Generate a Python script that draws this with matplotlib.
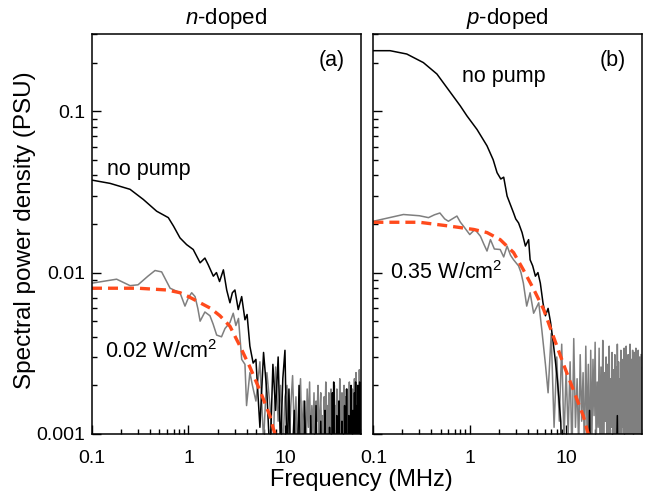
import numpy as np
import matplotlib
matplotlib.use("Agg")
from matplotlib import pyplot as plt
from matplotlib import ticker

plt.rcParams['font.family'] = ['Liberation Sans', 'DejaVu Sans']
plt.rcParams['mathtext.fontset'] = 'custom'
plt.rcParams['mathtext.rm'] = 'Liberation Sans'
plt.rcParams['mathtext.it'] = 'Liberation Sans:italic'

# ---- panel (a): n-doped ----
# smooth low-frequency parts (MHz, PSU)
freq_a_nopump = [0.1, 0.154, 0.248, 0.34, 0.468, 0.618, 0.70, 0.817, 0.957, 1.12, 1.32, 1.48, 1.6, 1.81,
                 1.95, 2.1, 2.3, 2.49, 2.69, 2.85, 3.03, 3.28, 3.56, 3.85, 4.05, 4.33, 4.68]
psd_a_nopump = [0.0374, 0.0357, 0.0328, 0.0284, 0.024, 0.0219, 0.0194, 0.0164, 0.0149, 0.0139, 0.0115,
                0.0123, 0.0112, 0.0095, 0.0100, 0.0088, 0.0104, 0.0078, 0.0065, 0.0075, 0.0078, 0.0059,
                0.0071, 0.0051, 0.0055, 0.0035, 0.00275]
freq_a_pump = [0.1, 0.18, 0.248, 0.30, 0.38, 0.45, 0.527, 0.645, 0.817, 0.92, 1.0, 1.08, 1.17, 1.25, 1.32,
               1.48, 1.67, 1.8, 1.96, 2.2, 2.39, 2.69, 2.91, 3.1, 3.3, 3.56, 3.85, 4.0, 4.33, 4.6]
psd_a_pump = [0.0086, 0.0091, 0.0083, 0.0084, 0.0095, 0.0103, 0.0101, 0.0080, 0.0075, 0.0062, 0.0070,
              0.0075, 0.0071, 0.0060, 0.0050, 0.0057, 0.0054, 0.0048, 0.0041, 0.0040, 0.0045, 0.0049,
              0.0056, 0.0047, 0.0052, 0.0029, 0.0027, 0.0015, 0.0024, 0.0020]
# noisy high-frequency parts, 5 MHz upwards in 0.5 MHz steps (units of 1e-3 PSU)
noise_a_nopump = [2.9, 1.1, 3.2, 1.8, 0.7, 2.7, 1.4, 3.0, 0.8, 2.2, 3.3,
                  0.7, 1.9, 0.6, 0.8, 1.4, 0.5, 0.7, 2.0, 0.6, 0.8, 0.5, 1.6, 0.7, 0.6, 0.9, 0.5, 1.3, 0.6, 0.8, 0.5,
                  0.7, 1.5, 0.6, 0.8, 0.5, 0.7, 1.2, 0.6, 0.5, 0.8, 0.6, 1.4, 0.5, 0.7, 0.6, 0.8, 0.5, 1.1, 0.6, 0.7,
                  0.5, 1.8, 0.6, 2.1, 0.7, 0.5, 0.8, 0.6, 1.3, 0.5, 0.7, 0.6, 1.6, 0.5, 0.8, 0.6, 0.7, 1.2, 0.5, 0.6,
                  0.8, 0.5, 1.5, 0.6, 0.7, 0.5, 1.9, 0.6, 0.8, 0.5, 0.7, 1.3, 0.6, 0.5, 0.8, 0.6, 2.0, 0.5, 0.7, 0.6,
                  1.4, 0.5, 0.7, 0.6, 1.8, 0.5, 0.8, 2.1, 0.6, 0.7, 0.5, 1.5, 0.6, 2.0, 0.5, 0.8, 1.7, 0.6, 2.1, 0.7]
noise_a_pump = [1.6, 2.8, 0.9, 2.4, 1.5, 0.7, 2.6, 1.2, 2.0, 0.8, 1.7,
                2.0, 0.8, 1.5, 2.3, 1.0, 1.7, 0.7, 1.4, 2.2, 0.9, 1.6, 1.2, 0.7, 1.9, 1.1, 2.1, 0.8, 1.5, 1.0, 1.8,
                0.8, 1.6, 1.2, 2.0, 0.7, 1.4, 1.8, 0.9, 1.3, 0.7, 1.7, 1.1, 2.1, 0.8, 1.5, 1.0, 1.8, 0.7, 1.3, 1.9,
                1.1, 0.8, 1.7, 1.3, 2.0, 0.7, 1.5, 1.0, 1.9, 1.2, 0.8, 1.6, 1.1, 2.2, 0.9, 1.4, 0.7, 1.8, 1.2, 0.9,
                1.5, 2.0, 1.0, 0.7, 1.7, 1.3, 0.8, 1.9, 1.1, 1.6, 0.7, 1.4, 2.1, 1.0, 0.8, 1.8, 1.2, 1.5, 0.7, 1.9,
                1.2, 0.8, 1.7, 1.4, 2.2, 0.9, 1.5, 1.1, 2.4, 0.8, 1.6, 1.3, 0.7, 2.0, 1.2, 1.8, 0.9, 2.5, 1.4, 1.0]
freq_a_fit = [0.1, 0.3, 0.6, 0.82, 1.0, 1.32, 1.7, 2.12, 2.69, 3.42, 4.33, 5.5, 7.0, 7.57, 8.0]
psd_a_fit = [0.0080, 0.0080, 0.0078, 0.0075, 0.0071, 0.0065, 0.0060, 0.0054, 0.00465, 0.0035, 0.0026,
             0.00186, 0.00129, 0.00108, 0.00098]

# ---- panel (b): p-doped ----
freq_b_nopump = [0.1, 0.149, 0.222, 0.33, 0.456, 0.627, 0.796, 0.935, 1.19, 1.51, 1.75, 1.92, 2.1, 2.25, 2.44,
                 2.85, 3.0, 3.21, 3.49, 3.78, 4.08, 4.23, 4.5, 4.8, 5.1, 5.4, 5.75, 6.1, 6.5, 6.9, 7.3, 7.7,
                 8.1, 8.4, 8.8]
psd_b_nopump = [0.237, 0.237, 0.226, 0.20, 0.170, 0.131, 0.108, 0.0935, 0.077, 0.061, 0.050, 0.0416, 0.038,
                0.039, 0.0298, 0.0234, 0.0215, 0.0203, 0.0177, 0.0146, 0.0160, 0.0120, 0.0110, 0.0095, 0.0100,
                0.0086, 0.0065, 0.0054, 0.0060, 0.0049, 0.0038, 0.0029, 0.0022, 0.0017, 0.0012]
freq_b_pump = [0.1, 0.205, 0.30, 0.373, 0.43, 0.49, 0.55, 0.60, 0.736, 0.80, 0.86, 1.0, 1.13, 1.29, 1.4,
               1.51, 1.64, 1.8, 2.07, 2.25, 2.44, 2.65, 2.85, 3.21, 3.4, 3.6, 3.9, 4.23, 4.6, 5.2, 5.6, 6.1]
psd_b_pump = [0.0208, 0.0229, 0.0225, 0.0219, 0.0228, 0.0234, 0.0215, 0.0208, 0.0224, 0.0205, 0.0194,
              0.0172, 0.0185, 0.0168, 0.0150, 0.0136, 0.0160, 0.0140, 0.0139, 0.0125, 0.0146, 0.0128,
              0.0120, 0.0110, 0.0100, 0.0086, 0.0062, 0.0075, 0.0056, 0.0065, 0.0044, 0.0027]
# noisy parts: no pump from 9 MHz, pumped from 6.5 MHz, 0.5 MHz steps (units of 1e-3 PSU)
noise_b_nopump = [0.7, 1.0, 0.6,
                  0.8, 0.5, 0.9, 0.6, 0.7, 0.5, 0.8, 0.6, 0.9, 0.5, 0.7, 0.6, 0.8, 0.5, 1.4, 0.6, 0.7, 0.5, 0.8, 0.6,
                  0.5, 0.8, 0.6, 0.7, 0.5, 0.9, 0.6, 0.5, 0.8, 0.6, 0.7, 0.5, 0.9, 0.6, 0.5, 0.8, 0.6, 0.7, 0.5, 0.8,
                  0.6, 0.5, 0.9, 0.6, 0.7, 0.5, 0.8, 1.3, 0.6, 0.5, 0.8, 0.6, 0.7, 0.5, 0.9, 0.6, 0.5, 0.8, 0.6, 0.7,
                  0.5, 0.8, 0.6, 0.7, 0.5, 0.9, 0.6, 0.5, 0.8, 0.6, 0.7, 0.5, 0.9, 0.6, 0.5, 0.8, 0.6, 0.7, 0.5, 0.8,
                  0.6, 0.5, 0.9, 0.6, 0.7, 0.5, 0.8, 0.6, 0.5, 0.9, 0.6, 0.7, 0.5, 0.8, 0.6, 0.5, 0.9, 0.6, 0.7, 0.5]
noise_b_pump = [1.8, 4.2, 1.1, 3.0, 1.2, 3.6, 0.9, 2.5,
                1.0, 2.8, 0.7, 3.9, 1.1, 2.2, 0.8, 3.1, 1.2, 2.4, 0.7, 3.5, 1.0, 2.7, 0.6, 3.3, 0.9, 2.9, 1.3, 3.7,
                0.8, 2.1, 1.1, 3.4, 0.7, 2.6, 1.0, 3.8, 0.6, 2.4, 1.2, 3.0, 0.8, 2.7, 0.9, 3.5, 0.7, 2.2, 1.1, 3.2,
                0.9, 2.5, 0.7, 3.1, 1.0, 2.6, 0.6, 3.6, 1.2, 2.8, 0.8, 2.2, 1.0, 3.3, 0.7, 2.4, 1.1, 2.9, 0.6, 3.4,
                1.0, 2.7, 0.8, 3.5, 1.1, 2.3, 0.7, 3.1, 0.9, 2.6, 1.2, 3.6, 0.6, 2.0, 1.0, 2.9, 0.8, 3.3, 1.1, 2.5,
                0.7, 3.2, 1.0, 2.7, 0.8, 3.4, 1.2, 2.3, 0.6, 2.9, 1.0, 3.3, 0.9, 2.4, 0.7, 3.0, 1.1, 2.6, 0.8, 3.1]
freq_b_fit = [0.1, 0.3, 0.62, 1.1, 1.51, 2.07, 2.85, 3.6, 4.6, 5.85, 7.4, 9.4, 11.9, 15.1, 16.5, 17.5]
psd_b_fit = [0.0205, 0.0205, 0.0194, 0.0185, 0.0177, 0.0160, 0.0133, 0.0104, 0.0079, 0.0059, 0.0040,
             0.0027, 0.00187, 0.00129, 0.00106, 0.00095]


def join(freq, psd, noise, f0):
    f_noise = f0 + 0.5 * np.arange(len(noise))
    return (np.concatenate([freq, f_noise]),
            np.concatenate([psd, np.array(noise) * 1e-3]))


orange = '#ff4a1c'
fig = plt.figure(figsize=(6.46, 4.93), dpi=100)
ax_a = fig.add_axes([0.1424, 0.1197, 0.416, 0.811])
ax_b = fig.add_axes([0.578, 0.1197, 0.4155, 0.811])

panels = [
    (ax_a, join(freq_a_nopump, psd_a_nopump, noise_a_nopump, 5.0),
     join(freq_a_pump, psd_a_pump, noise_a_pump, 5.0), (freq_a_fit, psd_a_fit)),
    (ax_b, join(freq_b_nopump, psd_b_nopump, noise_b_nopump, 9.0),
     join(freq_b_pump, psd_b_pump, noise_b_pump, 6.5), (freq_b_fit, psd_b_fit)),
]

for ax, nopump, pump, fit in panels:
    ax.plot(pump[0], pump[1], color='#7f7f7f', lw=1.1)
    ax.plot(nopump[0], nopump[1], color='black', lw=1.1)
    ax.plot(fit[0], fit[1], color=orange, lw=2.4, dashes=(3, 1.8))
    ax.set_xscale('log')
    ax.set_yscale('log')
    ax.set_xlim(0.1, 61)
    ax.set_ylim(0.001, 0.3)
    ax.tick_params(which='both', direction='in', top=False, right=False, width=1.0)
    ax.tick_params(which='major', length=6.5, labelsize=14)
    ax.tick_params(which='minor', length=3.6)
    ax.tick_params(axis='x', pad=11.5)
    ax.tick_params(axis='y', pad=5)
    ax.xaxis.set_major_formatter(ticker.FormatStrFormatter('%g'))
    ax.yaxis.set_major_formatter(ticker.FormatStrFormatter('%g'))
    ax.xaxis.set_minor_formatter(ticker.NullFormatter())
    ax.yaxis.set_minor_formatter(ticker.NullFormatter())
    for s in ax.spines.values():
        s.set_linewidth(1.1)

ax_b.tick_params(axis='y', labelleft=False)

ax_a.set_title(r'$\it{n}$-doped', fontsize=16, pad=7)
ax_b.set_title(r'$\it{p}$-doped', fontsize=16, pad=7)

ax_a.text(0.94, 0.935, '(a)', transform=ax_a.transAxes, ha='right', va='center', fontsize=15.5)
ax_b.text(0.94, 0.935, '(b)', transform=ax_b.transAxes, ha='right', va='center', fontsize=15.5)
ax_a.text(0.143, 0.0436, 'no pump', ha='left', va='center', fontsize=15.5)
ax_a.text(0.136, 0.00323, r'0.02 W/cm$^2$', ha='left', va='center', fontsize=15.5)
ax_b.text(0.835, 0.163, 'no pump', ha='left', va='center', fontsize=15.5)
ax_b.text(0.149, 0.0100, r'0.35 W/cm$^2$', ha='left', va='center', fontsize=15.5)

fig.text(0.559, 0.027, 'Frequency (MHz)', ha='center', va='center', fontsize=17)
fig.text(0.039, 0.533, 'Spectral power density (PSU)', ha='center', va='center',
         rotation=90, fontsize=17.5)

fig.savefig('out.png', dpi=100)
